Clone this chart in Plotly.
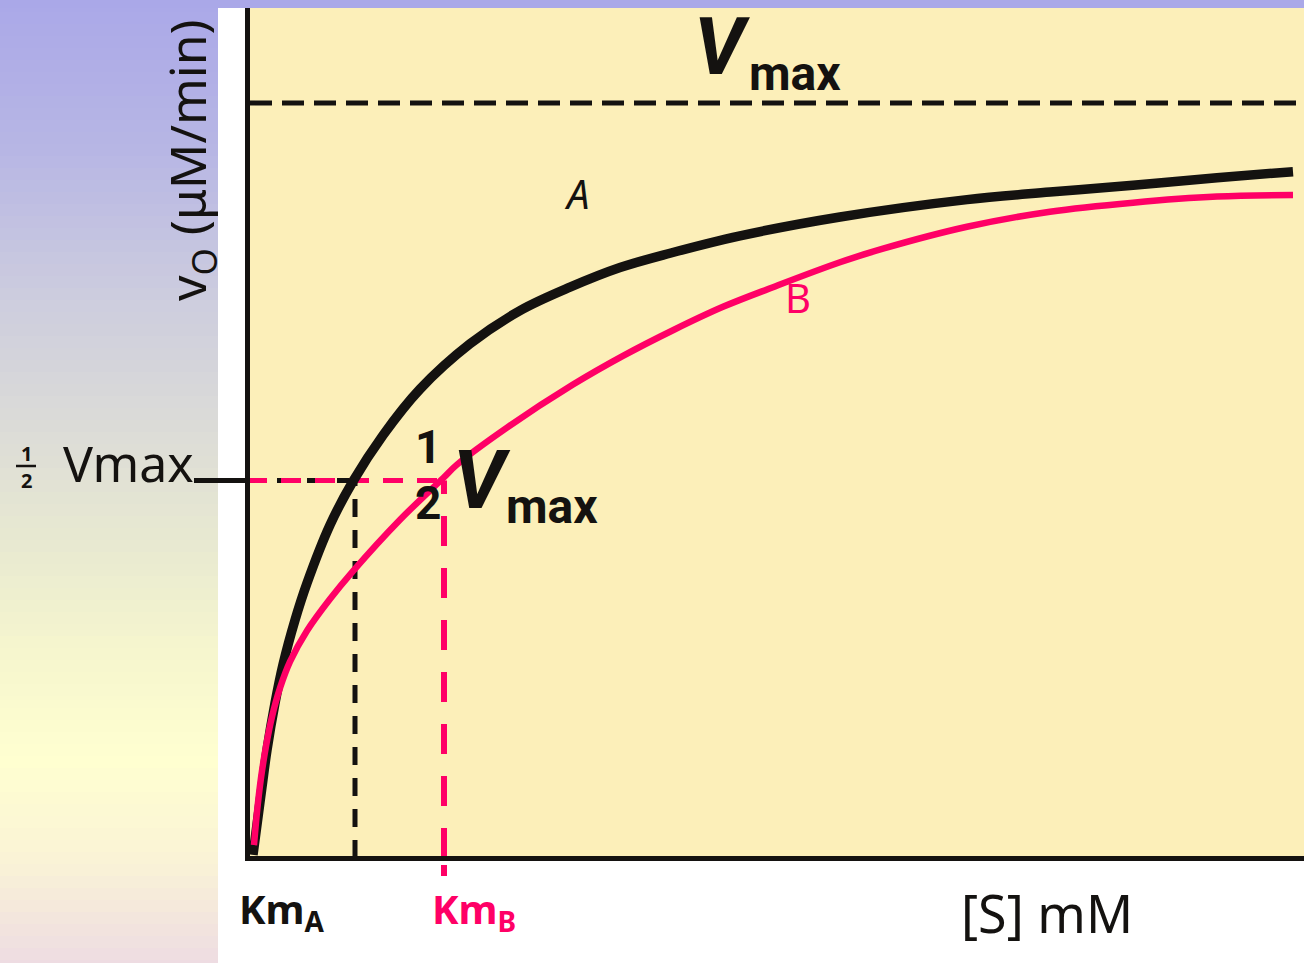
import plotly.graph_objects as go

# ---------------- data ----------------
# substrate concentration [S] (arbitrary mM units) and velocity v0 (% of Vmax, Vmax = 100)
s_A = [0.6, 1.0, 1.5, 2.0, 2.8, 3.6, 4.8, 6.0, 8.3, 10.6, 13.6, 17.3, 22.3, 27.3, 32.3, 37.3, 42.3,
       49.3, 59.3, 72.0, 80.3, 88.6, 97.0, 104.6]
v_A = [0.4, 4.4, 9.4, 14.3, 20.5, 25.6, 31.5, 36.4, 44.1, 49.9, 56.0, 62.1, 68.1, 72.5, 75.6, 78.2, 80.1,
       82.4, 84.9, 87.2, 88.2, 89.1, 90.1, 90.9]

s_B = [0.7, 1.0, 1.4, 1.9, 2.5, 3.3, 4.3, 6.0, 8.3, 10.6, 15.3, 19.6, 21.0, 26.0, 32.6, 37.6, 42.6,
       47.6, 52.6, 59.3, 63.6, 72.0, 80.3, 88.6, 97.0, 104.6]
v_B = [1.7, 6.1, 10.6, 14.8, 18.7, 22.5, 26.0, 30.1, 34.3, 38.0, 44.8, 50.3, 52.1, 57.0, 62.7, 66.5, 69.9,
       73.0, 75.6, 78.9, 80.7, 83.6, 85.6, 86.8, 87.6, 87.8]

VMAX = 100.0
HALF_VMAX = 50.0
KM_A = 10.8
KM_B = 19.7
X_RANGE = [0.3, 105.7]
Y_RANGE = [0.26, 112.58]

# ---------------- styling helpers ----------------
W, H = 1304, 963
L, R, T, B = 250, 1304, 8, 856
BLACK = "#141210"
PINK = "#FF0066"
YELLOW = "#FCEFB9"
FONT = "Noto Sans"
BOLDFONT = "Roboto"


def px(x):
    return (x - L) / (R - L)


def py(y):
    return (B - y) / (B - T)


fig = go.Figure()

# reference dashed lines
fig.add_trace(go.Scatter(x=[X_RANGE[0], X_RANGE[1]], y=[VMAX, VMAX], mode="lines",
                         line=dict(color=BLACK, width=5, dash="22px,10px"), hoverinfo="skip"))
fig.add_trace(go.Scatter(x=[0, KM_A], y=[HALF_VMAX, HALF_VMAX], mode="lines",
                         line=dict(color=BLACK, width=5, dash="18px,12px"), hoverinfo="skip"))
fig.add_trace(go.Scatter(x=[KM_A, KM_A], y=[0, HALF_VMAX], mode="lines",
                         line=dict(color=BLACK, width=5, dash="18px,13px"), hoverinfo="skip"))
fig.add_trace(go.Scatter(x=[0, KM_B], y=[HALF_VMAX, HALF_VMAX], mode="lines",
                         line=dict(color=PINK, width=5, dash="20px,14px"), hoverinfo="skip"))
fig.add_trace(go.Scatter(x=[KM_B, KM_B], y=[0, HALF_VMAX], mode="lines",
                         line=dict(color=PINK, width=6, dash="30px,22px"), hoverinfo="skip"))

# curves
fig.add_trace(go.Scatter(x=s_A, y=v_A, mode="lines",
                         line=dict(color=BLACK, width=9.5, shape="spline", smoothing=1.0),
                         hoverinfo="skip"))
fig.add_trace(go.Scatter(x=s_B, y=v_B, mode="lines",
                         line=dict(color=PINK, width=6.5, shape="spline", smoothing=1.0),
                         hoverinfo="skip"))

# ---------------- background shapes ----------------
shapes = []
stops = [(0, (170, 168, 232)), (150, (183, 182, 228)), (300, (205, 205, 222)), (450, (222, 222, 214)),
         (560, (234, 235, 208)), (660, (247, 247, 206)), (760, (255, 255, 208)), (860, (250, 243, 214)),
         (963, (238, 220, 226))]


def color_at(y):
    for (y0, c0), (y1, c1) in zip(stops[:-1], stops[1:]):
        if y0 <= y <= y1:
            t = (y - y0) / (y1 - y0)
            c = [round(a + (b - a) * t) for a, b in zip(c0, c1)]
            return "rgb(%d,%d,%d)" % tuple(c)
    return "rgb(%d,%d,%d)" % stops[-1][1]


band = 12
for y in range(0, H, band):
    shapes.append(dict(type="rect", xref="paper", yref="paper", layer="below",
                       x0=px(0), x1=px(218), y0=py(min(y + band + 1, H)), y1=py(y),
                       fillcolor=color_at(y + band / 2), line=dict(width=0)))
# lavender top band
shapes.append(dict(type="rect", xref="paper", yref="paper", layer="below",
                   x0=px(0), x1=px(W), y0=py(8), y1=py(0),
                   fillcolor="rgb(170,168,232)", line=dict(width=0)))
# half-Vmax tick in margin
shapes.append(dict(type="line", xref="paper", yref="y", x0=px(194), x1=px(247),
                   y0=HALF_VMAX, y1=HALF_VMAX, line=dict(color=BLACK, width=5)))
# fraction bar of the left "1/2"
shapes.append(dict(type="line", xref="paper", yref="paper", x0=px(16), x1=px(36),
                   y0=py(466), y1=py(466), line=dict(color=BLACK, width=2.5)))
# pink dash segment below the axis
shapes.append(dict(type="line", xref="x", yref="paper", x0=KM_B, x1=KM_B,
                   y0=py(876), y1=py(865), line=dict(color=PINK, width=6)))

# ---------------- annotations ----------------
ann = []


def add(text, x, y, size, color=BLACK, family=FONT, xanchor="center", yanchor="middle", angle=0):
    ann.append(dict(text=text, x=px(x), y=py(y), xref="paper", yref="paper", showarrow=False,
                    xanchor=xanchor, yanchor=yanchor, textangle=angle,
                    font=dict(size=size, color=color, family=family)))


add("v<sub>O</sub> (μM/min)", 190, 160, 50, angle=-90)
add("<b>1</b>", 26, 453, 20)
add("<b>2</b>", 26, 480, 20)
add("Vmax", 128, 463, 50)
add("<b>Km<sub>A</sub></b>", 282, 910, 40)
add("<b>Km<sub>B</sub></b>", 474, 910, 40, color=PINK)
add("[S] mM", 1047, 912, 52)
add("<i>A</i>", 576, 193, 40)
add("B", 798, 297, 40, color=PINK)
add("<b><i>V</i></b>", 722, 47, 80, family=BOLDFONT)
add("<b>max</b>", 795, 73, 48, family=BOLDFONT)
add("<b>1</b>", 428, 447, 46, family=BOLDFONT)
add("<b>2</b>", 428, 503, 46, family=BOLDFONT)
add("<b><i>V</i></b>", 482, 480, 82, family=BOLDFONT)
add("<b>max</b>", 552, 506, 48, family=BOLDFONT)

fig.update_layout(
    width=W, height=H,
    margin=dict(l=L, r=W - R, t=T, b=H - B, pad=0),
    paper_bgcolor="white", plot_bgcolor=YELLOW,
    showlegend=False,
    shapes=shapes, annotations=ann,
    xaxis=dict(range=X_RANGE, showgrid=False, zeroline=False, showticklabels=False, ticks="",
               showline=True, linewidth=5, linecolor=BLACK),
    yaxis=dict(range=Y_RANGE, showgrid=False, zeroline=False, showticklabels=False, ticks="",
               showline=True, linewidth=5, linecolor=BLACK),
)

fig.write_html("out.html", config={"displayModeBar": False},
               post_script="document.body.style.margin='0';")
